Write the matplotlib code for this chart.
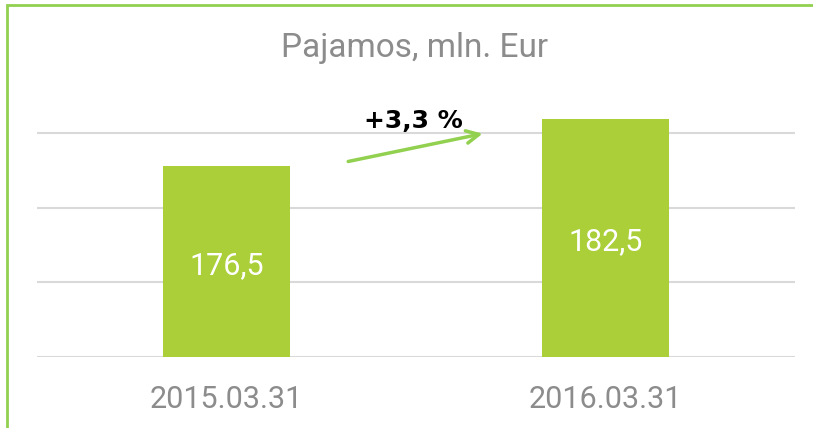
import matplotlib.pyplot as plt
from matplotlib.patches import Rectangle

# Chart data
categories = ['2015.03.31', '2016.03.31']
values = [176.5, 182.5]
value_labels = ['176,5', '182,5']
change_label = '+3,3 %'
title = 'Pajamos, mln. Eur'

bar_color = '#AACF38'
frame_color = '#92D050'
gray = '#8C8C8C'
narrow = ['Roboto', 'DejaVu Sans']

ymin = 152.1
step = 9.54

fig = plt.figure(figsize=(8.13, 4.28), dpi=100)
ax = fig.add_axes([37/813, 71/428, 758/813, 257/428])

x = list(range(len(categories)))
ax.bar(x, values, width=0.333, color=bar_color, zorder=3)
for xi, v, lab in zip(x, values, value_labels):
    ax.text(xi, (ymin + v) / 2 - 0.5, lab, ha='center', va='center',
            color='white', fontsize=22, family=narrow, zorder=4)

ax.set_xlim(-0.5, 1.5)
ax.set_ylim(ymin, ymin + 257 / 7.83)
ax.set_yticks([ymin + k * step for k in range(4)])
ax.yaxis.grid(True, color='#D9D9D9', linewidth=1.5, zorder=0)
ax.tick_params(left=False, bottom=False, labelleft=False)
ax.set_xticks(x)
ax.set_xticklabels(categories, fontsize=22, color=gray, family=narrow)
ax.tick_params(axis='x', pad=17)
for s in ax.spines.values():
    s.set_visible(False)

# growth arrow and label
ax.annotate('', xy=(0.683, 180.7), xytext=(0.314, 177.0),
            arrowprops=dict(arrowstyle='->,head_length=0.9,head_width=0.45',
                            color=frame_color, lw=2.5))
ax.text(0.493, 182.2, change_label, ha='center', va='center',
        fontsize=18, fontweight='bold', color='black')

fig.text(0.51, 0.888, title, ha='center', va='center', fontsize=24,
         color=gray, family=narrow)

# outer frame (only top and left visible)
fig.patches.append(Rectangle((7/813, -0.1), 1.2, 0.1 + 423/428,
                             transform=fig.transFigure, fill=False,
                             edgecolor=frame_color, linewidth=2))

fig.savefig('out.png', dpi=100)
